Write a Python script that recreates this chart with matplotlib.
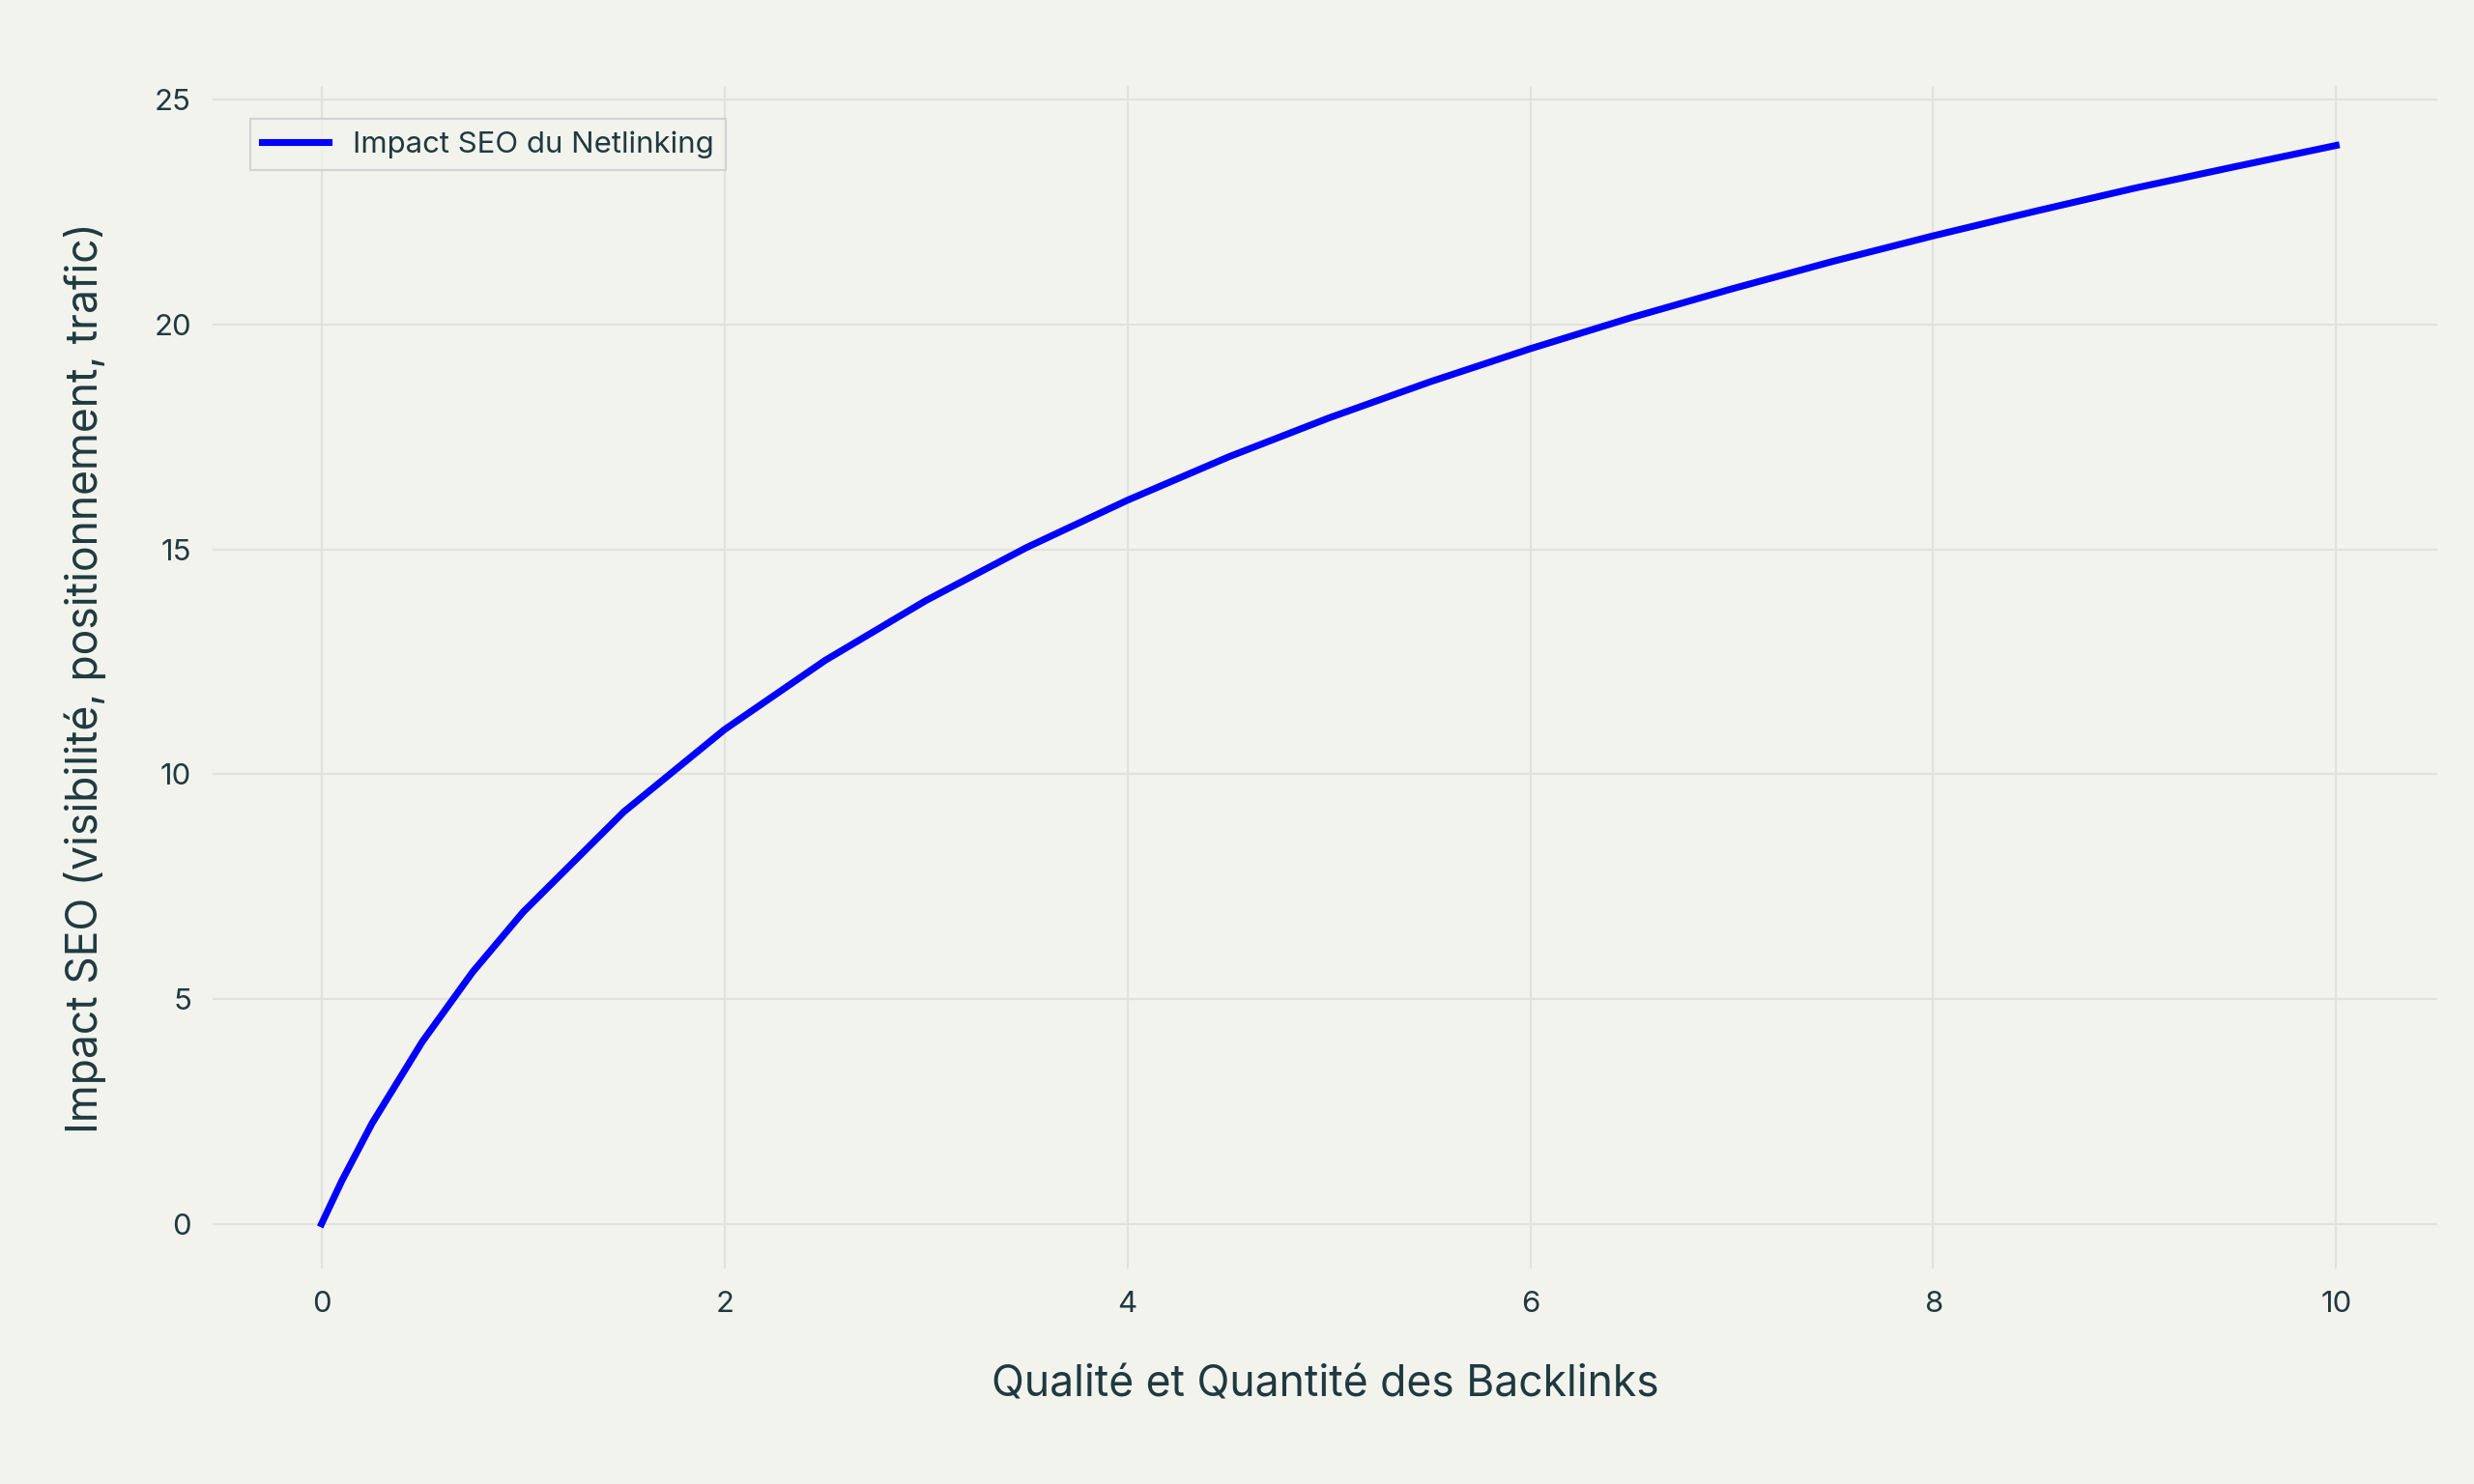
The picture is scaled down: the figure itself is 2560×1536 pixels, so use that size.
import matplotlib
matplotlib.use("Agg")
import matplotlib.pyplot as plt

x_vals = [0, 0.1, 0.25, 0.5, 0.75, 1.0, 1.5, 2.0, 2.5, 3.0, 3.5, 4.0, 4.5, 5.0, 5.5,
          6.0, 6.5, 7.0, 7.5, 8.0, 8.5, 9.0, 9.5, 10.0]
y_vals = [0, 0.95, 2.23, 4.05, 5.60, 6.93, 9.16, 10.99, 12.53, 13.86, 15.04, 16.09,
          17.05, 17.92, 18.72, 19.46, 20.15, 20.79, 21.40, 21.97, 22.51, 23.03, 23.51, 23.98]
series_name = "Impact SEO du Netlinking"
x_label = "Qualité et Quantité des Backlinks"
y_label = "Impact SEO (visibilité, positionnement, trafic)"

bg = "#F3F3EE"
tc = "#1F3A3F"
plt.rcParams['font.family'] = ['Inter', 'DejaVu Sans']

fig = plt.figure(figsize=(16, 9.6), dpi=160, facecolor=bg)
ax = fig.add_axes([0.086, 0.145, 0.899, 0.797], facecolor=bg)
ax.plot(x_vals, y_vals, color="#0000FF", lw=3.2, label=series_name)
ax.set_xlim(-0.54, 10.5)
ax.set_ylim(-1.0, 25.3)
ax.set_xticks(range(0, 11, 2))
ax.set_yticks(range(0, 26, 5))
ax.grid(True, color="#E2E2DC", lw=1)
for s in ax.spines.values():
    s.set_visible(False)
ax.tick_params(length=0, labelsize=14, colors=tc, pad=10)
ax.set_xlabel(x_label, fontsize=20, color=tc, labelpad=22)
ax.set_ylabel(y_label, fontsize=20, color=tc, labelpad=22)
leg = ax.legend(loc="upper left", bbox_to_anchor=(0.01, 0.985), fontsize=14,
                frameon=True, fancybox=False, labelcolor=tc, handlelength=2.2)
leg.get_frame().set_facecolor(bg)
leg.get_frame().set_edgecolor("#CCCCCC")
fig.savefig("out.png", facecolor=bg)
